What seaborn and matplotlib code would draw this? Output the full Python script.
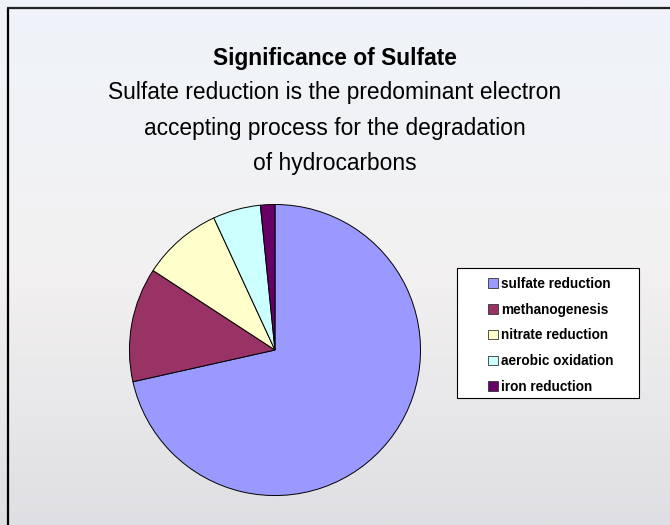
import numpy as np
import matplotlib
matplotlib.use('Agg')
import matplotlib.pyplot as plt
import seaborn as sns
from matplotlib.colors import LinearSegmentedColormap
from matplotlib.patches import Rectangle

processes = ['sulfate reduction', 'methanogenesis', 'nitrate reduction',
             'aerobic oxidation', 'iron reduction']
shares = [71.5, 12.7, 8.9, 5.3, 1.6]
slice_colors = ['#9999FF', '#993366', '#FFFFCC', '#CCFFFF', '#660066']

title = 'Significance of Sulfate'
subtitle = ('Sulfate reduction is the predominant electron\n'
            'accepting process for the degradation\n'
            'of hydrocarbons')

sns.set_style('white')
plt.rcParams['font.family'] = ['Liberation Sans', 'DejaVu Sans']
plt.rcParams['text.color'] = 'black'

fig = plt.figure(figsize=(6.7, 5.25), dpi=100)

# slide background, light gradient top to bottom
bg = fig.add_axes([0, 0, 1, 1], zorder=-5)
cmap = LinearSegmentedColormap.from_list(
    'slide', ['#EFF4FA', '#F3F1F1', '#DFDFE3'])
grad = np.linspace(0, 1, 256).reshape(-1, 1)
bg.imshow(grad, cmap=cmap, aspect='auto', extent=[0, 1, 0, 1], origin='upper')
bg.set_xlim(0, 1)
bg.set_ylim(0, 1)
bg.axis('off')
# frame lines (left and top)
bg.plot([7.5 / 670, 7.5 / 670], [0, 1 - 7.5 / 525], color='black', lw=1.6,
        solid_capstyle='butt')
bg.plot([7 / 670, 1], [1 - 7.5 / 525, 1 - 7.5 / 525], color='#222222', lw=1.6,
        solid_capstyle='butt')

fig.text(0.5, 1 - 58 / 525, title, ha='center', va='center',
         fontsize=16.4, fontweight='bold', color='black')
fig.text(0.5, 1 - 128 / 525, subtitle, ha='center', va='center',
         fontsize=16.4, linespacing=1.68, color='black')

ax = fig.add_axes([0.1910, 0.0533, 0.4388, 0.56])
palette = sns.color_palette(slice_colors)
wedges, _ = ax.pie(shares, colors=palette, startangle=90, counterclock=False,
                   radius=1, wedgeprops=dict(edgecolor='black', linewidth=0.7))
ax.set_xlim(-1.01, 1.01)
ax.set_ylim(-1.01, 1.01)
ax.set_aspect('equal')
ax.axis('off')

# legend box
fig.patches.append(Rectangle((457 / 670, 1 - 398 / 525), 182 / 670, 130 / 525,
                             transform=fig.transFigure, facecolor='white',
                             edgecolor='black', linewidth=0.8, zorder=1))
leg = fig.legend(wedges, processes, loc='upper left',
                 bbox_to_anchor=(488 / 670, 1 - 277 / 525), frameon=False,
                 prop=dict(size=9.8, weight='bold'), handlelength=0.7,
                 handleheight=0.7, handletextpad=0.25, labelspacing=0.86,
                 borderpad=0, borderaxespad=0)
leg.set_zorder(2)
for h in leg.legend_handles:
    h.set_edgecolor('#333333')
    h.set_linewidth(0.6)

fig.savefig('out.png', dpi=100)
